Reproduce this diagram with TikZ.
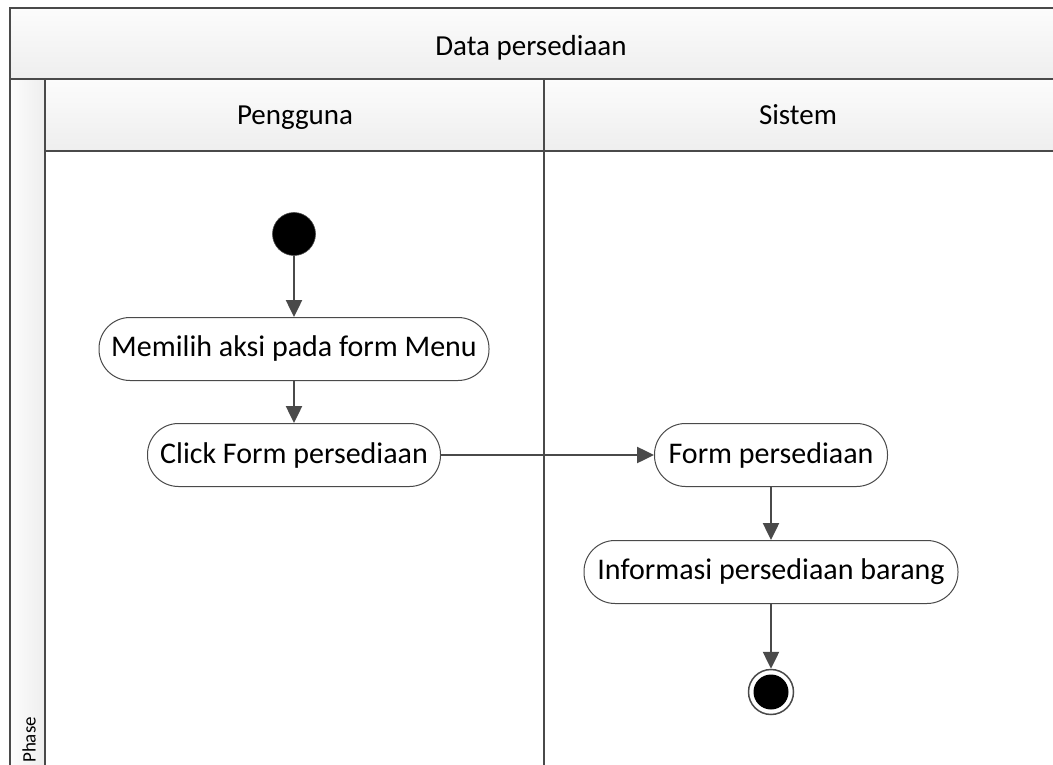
\documentclass[tikz,border=0pt]{standalone}
\usepackage{fontspec}
\setmainfont{Carlito}
\usetikzlibrary{arrows.meta,positioning}
\definecolor{ln}{HTML}{4A4A4A}
\definecolor{hdtop}{HTML}{FCFCFC}
\definecolor{hdbot}{HTML}{EEEEEE}
\tikzset{
  frame/.style={draw=ln,line width=2.4pt},
  hdr/.style={top color=hdtop,bottom color=hdbot,draw=none},
  act/.style={draw=ln,line width=1pt,fill=white,rounded corners=31pt,minimum height=63pt,inner xsep=10pt,font=\fontsize{30}{34}\selectfont},
  flow/.style={draw=ln,line width=2.5pt,-{Triangle[length=17pt,width=16pt]}},
  lbl/.style={font=\fontsize{29}{33}\selectfont,text=black,anchor=base},
}
\begin{document}
\begin{tikzpicture}[x=1pt,y=-1pt]
\useasboundingbox (0,0) rectangle (1053,765);
% header shadings
\shade[hdr] (10,8) rectangle (1060,79);
\shade[hdr] (45,79) rectangle (1060,151);
\shade[left color=hdtop,right color=hdbot] (10,79) rectangle (45,770);
% frame lines
\draw[frame] (1060,8) -- (10,8) -- (10,770);
\draw[frame] (10,79) -- (1060,79);
\draw[frame] (45,79) -- (45,770);
\draw[frame] (45,151) -- (1060,151);
\draw[ln,line width=1.3pt] (544,79) -- (544,770);
% labels
\node[lbl] (title) at (531,56) {Data persediaan};
\node[lbl] (l1) at (295,125) {Pengguna};
\node[lbl] (l2) at (798,125) {Sistem};
\node[font=\fontsize{19}{22}\selectfont,rotate=90,anchor=west,inner sep=0pt] (phase) at (29,763) {Phase};
% activities
\node[circle,fill=black,draw=ln,line width=0.6pt,minimum size=43pt,inner sep=0pt] (start) at (294,234) {};
\node[act,minimum width=390pt] (a1) at (294,349) {Memilih aksi pada form Menu};
\node[act,minimum width=293pt] (a2) at (294,455) {Click Form persediaan};
\node[act,minimum width=233pt] (b1) at (771,455) {Form persediaan};
\node[act,minimum width=374pt] (b2) at (771,572) {Informasi persediaan barang};
\node[circle,draw=ln,line width=1.5pt,fill=white,minimum size=45pt,inner sep=0pt] (end) at (771,692) {};
\node[circle,fill=black,minimum size=35pt,inner sep=0pt] (endin) at (end) {};
% flows
\draw[flow] (start) -- (a1);
\draw[flow] (a1) -- (a2);
\draw[flow] (a2) -- (b1);
\draw[flow] (b1) -- (b2);
\draw[flow] (b2) -- (end);
\end{tikzpicture}
\end{document}
